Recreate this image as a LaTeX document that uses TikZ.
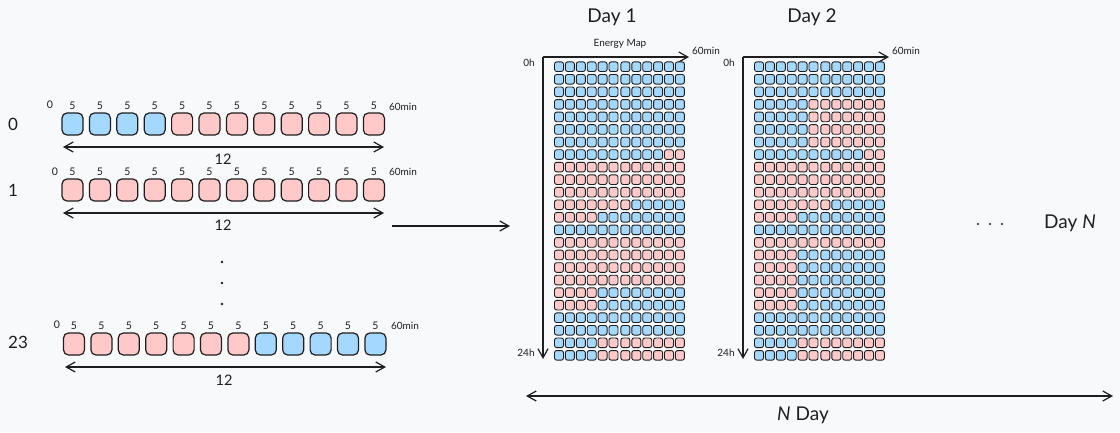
\documentclass[tikz,border=0pt]{standalone}
\usepackage{fontspec}
\setmainfont{Lato}
\usetikzlibrary{arrows.meta}
\definecolor{bg}{HTML}{F8F9FA}
\definecolor{ink}{HTML}{1E1E1E}
\definecolor{cb}{HTML}{A5D8FF}
\definecolor{cr}{HTML}{FFC9C9}
\tikzset{
  hbox/.style={rectangle, rounded corners=5pt, draw=ink, line width=1.2pt, minimum width=21pt, minimum height=22pt, inner sep=0pt},
  gcell/.style={rectangle, rounded corners=2.2pt, draw=ink, line width=0.9pt, minimum width=9pt, minimum height=9.6pt, inner sep=0pt},
  bluefill/.style={fill=cb},
  redfill/.style={fill=cr},
  txt/.style={inner sep=0pt, text=ink},
  tiny/.style={txt, font=\fontsize{10}{10}\selectfont},
  small/.style={txt, font=\fontsize{10.5}{10.5}\selectfont},
  mid/.style={txt, font=\fontsize{14.5}{14.5}\selectfont},
  big/.style={txt, font=\fontsize{17}{17}\selectfont},
  title/.style={txt, font=\fontsize{19}{19}\selectfont},
  conn/.style={draw=ink, line width=1.2pt},
  tipp/.tip={Straight Barb[length=9pt,width=10pt,line width=1.2pt]},
}
\begin{document}
\begin{tikzpicture}[x=1pt,y=-1pt]
\path[fill=bg] (0,0) rectangle (1120,432);
\useasboundingbox (0,0) rectangle (1120,432);

% ---------- left hourly rows ----------
% row 0
\node[big] (lab0) at (13,124) {0};
\node[small] (z0) at (50,105) {0};
\foreach \i in {0,...,11}{
  \ifnum\i<4 \def\col{bluefill}\else\def\col{redfill}\fi
  \node[hbox,\col] (r0-\i) at ({72.5+27.4*\i},124) {};
  \node[small] (f0-\i) at ({72.5+27.4*\i},106) {5};
}
\node[tiny] (m0) at (403,107) {60min};
\coordinate (a0l) at (63,147);
\coordinate (a0r) at (384,147);
\draw[conn,tipp-tipp] (a0l) -- (a0r);
\node[mid] (n0) at (223,159) {12};

% row 1
\node[big] (lab1) at (13,190) {1};
\node[small] (z1) at (55,172) {0};
\foreach \i in {0,...,11}{
  \node[hbox,redfill] (r1-\i) at ({72.5+27.4*\i},190) {};
  \node[small] (f1-\i) at ({72.5+27.4*\i},172) {5};
}
\node[tiny] (m1) at (403,172) {60min};
\coordinate (a1l) at (63,213);
\coordinate (a1r) at (384,213);
\draw[conn,tipp-tipp] (a1l) -- (a1r);
\node[mid] (n1) at (223,225) {12};

% vertical dots
\foreach \j/\yy in {1/262,2/283,3/304}{
  \fill[ink] (222,\yy) circle (1.3pt);
}

% row 23
\node[big] (lab23) at (18,342) {23};
\node[small] (z23) at (57,325) {0};
\foreach \i in {0,...,11}{
  \ifnum\i<7 \def\col{redfill}\else\def\col{bluefill}\fi
  \node[hbox,\col] (r23-\i) at ({74+27.4*\i},344) {};
  \node[small] (f23-\i) at ({74+27.4*\i},326) {5};
}
\node[tiny] (m23) at (405,326) {60min};
\coordinate (a23l) at (65,367);
\coordinate (a23r) at (386,367);
\draw[conn,tipp-tipp] (a23l) -- (a23r);
\node[mid] (n23) at (224,380) {12};

% middle arrow
\coordinate (ml) at (392,226);
\coordinate (mr) at (510,226);
\draw[conn,-tipp] (ml) -- (mr);

% ---------- day grids ----------
\foreach \dx/\dn/\rows in {0/1/{12,12,12,12,12,12,12,10,-12,-12,-12,-7,-4,12,-12,-12,-12,-12,-4,-4,12,12,4,4},
                           200/2/{12,12,12,5,5,5,5,10,-12,-12,-12,-7,-4,12,-12,-4,-4,-4,-4,-4,12,12,4,4}}{
  \node[title] (title\dn) at ({612+\dx},17) {Day \dn};
  \coordinate (o\dn) at ({543+\dx},57);
  \coordinate (xe\dn) at ({689+\dx},57);
  \coordinate (ye\dn) at ({543+\dx},359);
  \draw[conn,-tipp] (o\dn) -- (xe\dn);
  \draw[conn,-tipp] (o\dn) -- (ye\dn);
  \node[tiny] (h0\dn) at ({529+\dx},63) {0h};
  \node[tiny] (h24\dn) at ({526+\dx},353) {24h};
  \node[tiny] (min\dn) at ({706+\dx},51) {60min};
  \foreach \k [count=\r from 0] in \rows {
    \foreach \c in {0,...,11}{
      \ifnum\k>0
        \ifnum\c<\k \def\col{bluefill}\else\def\col{redfill}\fi
      \else
        \ifnum\c<-\k \def\col{redfill}\else\def\col{bluefill}\fi
      \fi
      \ifnum\c>5 \def\gap{1}\else\def\gap{0}\fi
      \node[gcell,\col] (d\dn-\r-\c) at ({559+\dx+10.9*\c+\gap},{66.7+12.55*\r}) {};
    }
  }
}
\node[tiny] (emap) at (620,44) {Energy Map};

% dots and Day N
\foreach \xx in {978,990,1002}{
  \fill[ink] (\xx,224) circle (1.2pt);
}
\node[title] (dayN) at (1070,223) {Day \textit{N}};

% bottom arrow
\coordinate (bl) at (526,396);
\coordinate (br) at (1113,396);
\draw[conn,tipp-tipp] (bl) -- (br);
\node[title] (nday) at (803,415) {\textit{N} Day};
\end{tikzpicture}
\end{document}
